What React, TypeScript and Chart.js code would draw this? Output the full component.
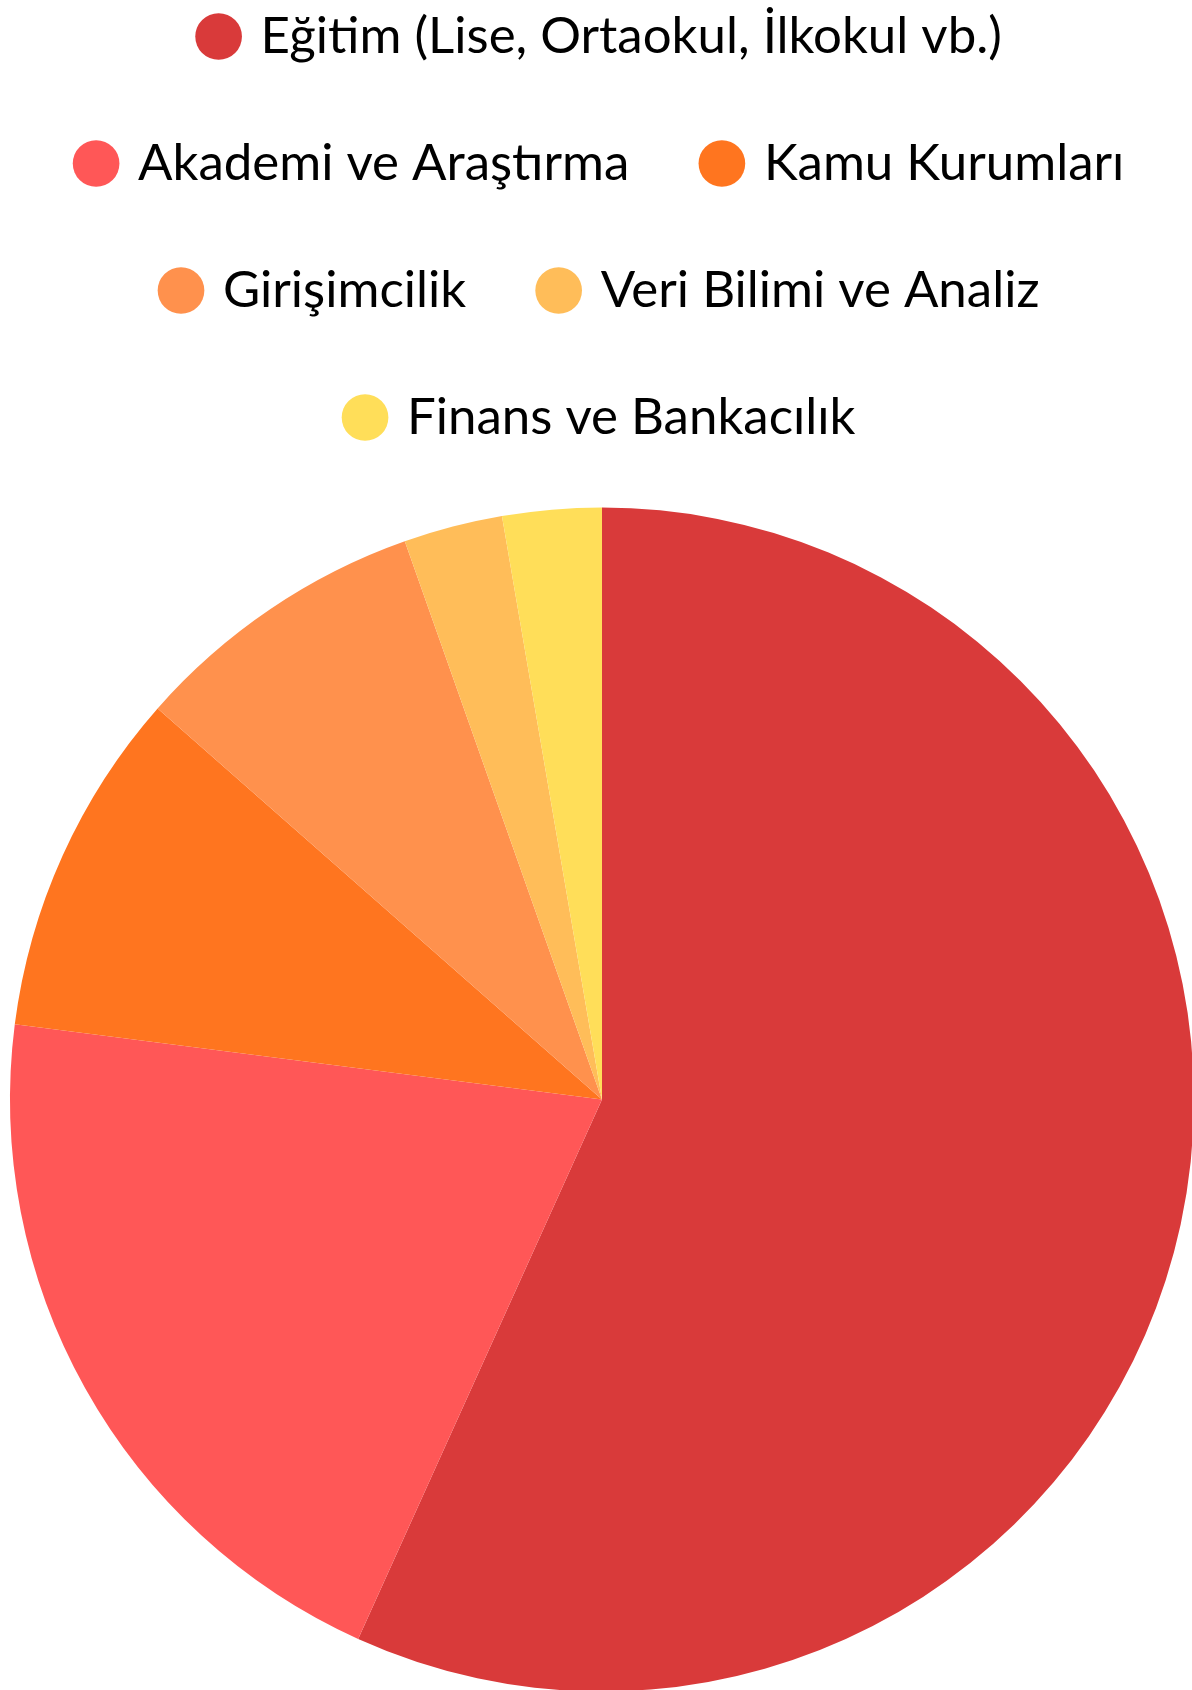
import React, { useEffect, useRef } from "react";
import { Chart, registerables } from "chart.js";

Chart.register(...registerables);

const categories: string[] = [
  "Eğitim (Lise, Ortaokul, İlkokul vb.)",
  "Akademi ve Araştırma",
  "Kamu Kurumları",
  "Girişimcilik",
  "Veri Bilimi ve Analiz",
  "Finans ve Bankacılık",
];

const values: number[] = [42, 15, 7, 6, 2, 2];

const colors: string[] = ["#D93A3A", "#FF5757", "#FF751F", "#FF914D", "#FFBD59", "#FFDE59"];

export default function App() {
  const ref = useRef<HTMLCanvasElement | null>(null);

  useEffect(() => {
    if (!ref.current) return;
    const chart = new Chart(ref.current, {
      type: "pie",
      data: {
        labels: categories,
        datasets: [
          {
            data: values,
            backgroundColor: colors,
            borderWidth: 0,
            radius: 592,
          },
        ],
      },
      options: {
        responsive: false,
        animation: false,
        devicePixelRatio: 1,
        layout: { padding: 0 },
        plugins: {
          tooltip: { enabled: false },
          legend: {
            position: "top",
            labels: {
              usePointStyle: true,
              pointStyle: "circle",
              boxWidth: 33,
              boxHeight: 33,
              padding: 76,
              color: "#000",
              font: { family: "Lato", size: 51, weight: "normal" },
            },
          },
        },
      },
    });
    return () => chart.destroy();
  }, []);

  return (
    <div
      style={{
        position: "fixed",
        left: 0,
        top: 0,
        width: 1192,
        height: 1690,
        overflow: "hidden",
        background: "#fff",
      }}
    >
      <canvas
        ref={ref}
        width={1300}
        height={1811}
        style={{ position: "absolute", left: -48, top: -65, width: 1300, height: 1811 }}
      />
    </div>
  );
}
